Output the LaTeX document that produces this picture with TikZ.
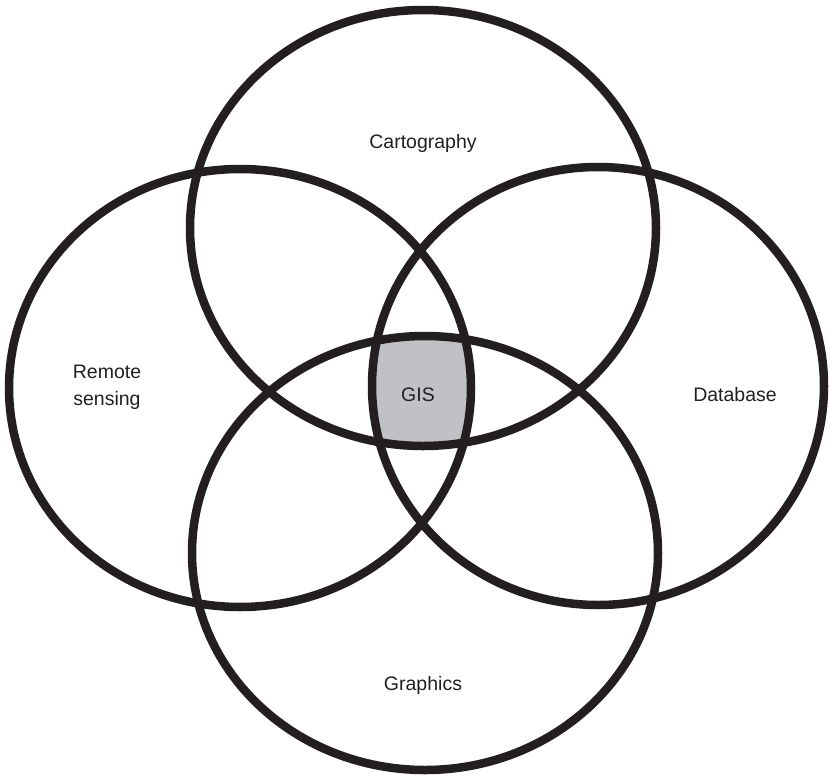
\documentclass[tikz,border=0pt]{standalone}
\usepackage{fontspec}
\setmainfont{Liberation Sans}
\definecolor{gisgray}{HTML}{C1C1C5}
\definecolor{ink}{HTML}{231F20}
\tikzset{
  ring/.style={draw=ink, line width=8.5pt},
  lab/.style={font=\fontsize{19.5}{27}\selectfont, text=ink, align=center, inner sep=0pt}
}
\begin{document}
\begin{tikzpicture}[x=1pt,y=-1pt]
\useasboundingbox (0,0) rectangle (830,779);
% GIS intersection
\begin{scope}
  \clip (423,228) ellipse [x radius=233, y radius=218];
  \clip (425,553) ellipse [x radius=233, y radius=217];
  \clip (240,388) ellipse [x radius=231, y radius=219];
  \fill[gisgray] (598,386) ellipse [x radius=226, y radius=219];
\end{scope}
% circles
\draw[ring] (423,228) ellipse [x radius=233, y radius=218];
\draw[ring] (425,553) ellipse [x radius=233, y radius=217];
\draw[ring] (240,388) ellipse [x radius=231, y radius=219];
\draw[ring] (598,386) ellipse [x radius=226, y radius=219];
% labels
\node[lab] (carto) at (423,143) {Cartography};
\node[lab] (remote) at (107,387) {Remote\\sensing};
\node[lab] (gis) at (418,395) {GIS};
\node[lab] (db) at (735,395) {Database};
\node[lab] (graph) at (423,685) {Graphics};
\end{tikzpicture}
\end{document}
